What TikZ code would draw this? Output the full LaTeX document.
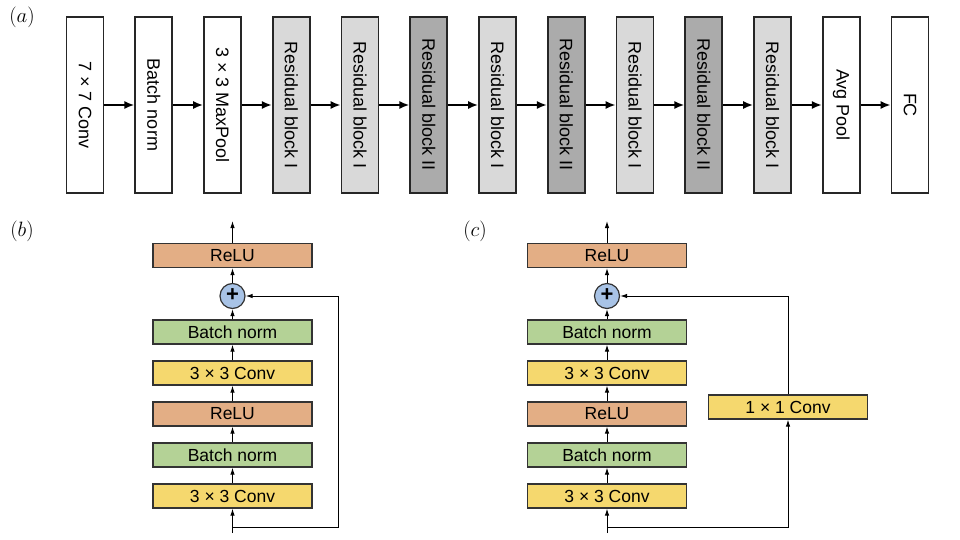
\documentclass[tikz,border=0pt]{standalone}
\usepackage{fontspec}
\newfontfamily\arial{Liberation Sans}
\usetikzlibrary{arrows.meta}
\definecolor{resI}{HTML}{D9D9D9}
\definecolor{resII}{HTML}{ABABAB}
\definecolor{relu}{HTML}{E3AE85}
\definecolor{bnorm}{HTML}{B4D296}
\definecolor{conv}{HTML}{F5D86E}
\definecolor{plusc}{HTML}{A8C3E6}
\begin{document}
\begin{tikzpicture}[x=1pt,y=-1pt,
    blk/.style={draw=black!85,line width=1.6pt,rotate=-90,minimum width=176pt,minimum height=37pt,inner sep=0pt,font=\arial\fontsize{18}{20}\selectfont},
    lay/.style={draw=black!80,line width=1.2pt,minimum width=159pt,minimum height=24pt,inner sep=0pt,font=\arial\fontsize{17.5}{19}\selectfont},
    plus/.style={draw=black!80,line width=1.2pt,circle,fill=plusc,minimum size=25pt,inner sep=0pt,font=\arial\bfseries\fontsize{22}{22}\selectfont},
    fat/.style={line width=2.2pt,-{Latex[length=10pt,width=8pt]}},
    thin/.style={line width=1pt,-{Latex[length=7pt,width=4.5pt]}}]
\useasboundingbox (0,0) rectangle (960,540);
% (a)
\node (la) at (22,17) {\fontsize{22}{24}\selectfont$(a)$};
\foreach[count=\k] \t/\f in {7 × 7 Conv/white,Batch norm/white,3 × 3 MaxPool/white,Residual block I/resI,Residual block I/resI,Residual block II/resII,Residual block I/resI,Residual block II/resII,Residual block I/resI,Residual block II/resII,Residual block I/resI,Avg Pool/white,FC/white}
    \node [blk,fill=\f] (a\k) at ({85+(\k-1)*68.75},105) {\t};
\foreach \k [evaluate=\k as \n using int(\k+1)] in {1,...,12}
    \draw[fat] (a\k) -- (a\n);
% (b)
\node (lb) at (22,231) {\fontsize{22}{24}\selectfont$(b)$};
\foreach[count=\k] \t/\f in {3 × 3 Conv/conv,Batch norm/bnorm,ReLU/relu,3 × 3 Conv/conv,Batch norm/bnorm}
    \node [lay,fill=\f] (b\k) at (232.5,{496-(\k-1)*41}) {\t};
\node [plus] (bplus) at (232.5,296) {\raisebox{1pt}{+}};
\node [lay,fill=relu] (b6) at (232.5,255.5) {ReLU};
\coordinate (bin) at (232.5,533);
\coordinate (bout) at (232.5,221);
\coordinate (bsk) at (338,527);
\draw[thin] (bin) -- (b1);
\foreach \k [evaluate=\k as \n using int(\k+1)] in {1,...,4}
    \draw[thin] (b\k) -- (b\n);
\draw[thin] (b5) -- (bplus);
\draw[thin] (bplus) -- (b6);
\draw[thin] (b6) -- (bout);
\draw[thin] (bin|-bsk) -- (bsk) |- (bplus);
% (c)
\node (lc) at (475,231) {\fontsize{22}{24}\selectfont$(c)$};
\foreach[count=\k] \t/\f in {3 × 3 Conv/conv,Batch norm/bnorm,ReLU/relu,3 × 3 Conv/conv,Batch norm/bnorm}
    \node [lay,fill=\f] (c\k) at (607,{496-(\k-1)*41}) {\t};
\node [plus] (cplus) at (607,296) {\raisebox{1pt}{+}};
\node [lay,fill=relu] (c6) at (607,255.5) {ReLU};
\node [lay,fill=conv] (c7) at (788,407) {1 × 1 Conv};
\coordinate (cin) at (607,533);
\coordinate (cout) at (607,221);
\coordinate (csk) at (788,527);
\draw[thin] (cin) -- (c1);
\foreach \k [evaluate=\k as \n using int(\k+1)] in {1,...,4}
    \draw[thin] (c\k) -- (c\n);
\draw[thin] (c5) -- (cplus);
\draw[thin] (cplus) -- (c6);
\draw[thin] (c6) -- (cout);
\draw[thin] (cin|-csk) -- (csk) -- (c7);
\draw[thin] (c7) |- (cplus);
\end{tikzpicture}
\end{document}
